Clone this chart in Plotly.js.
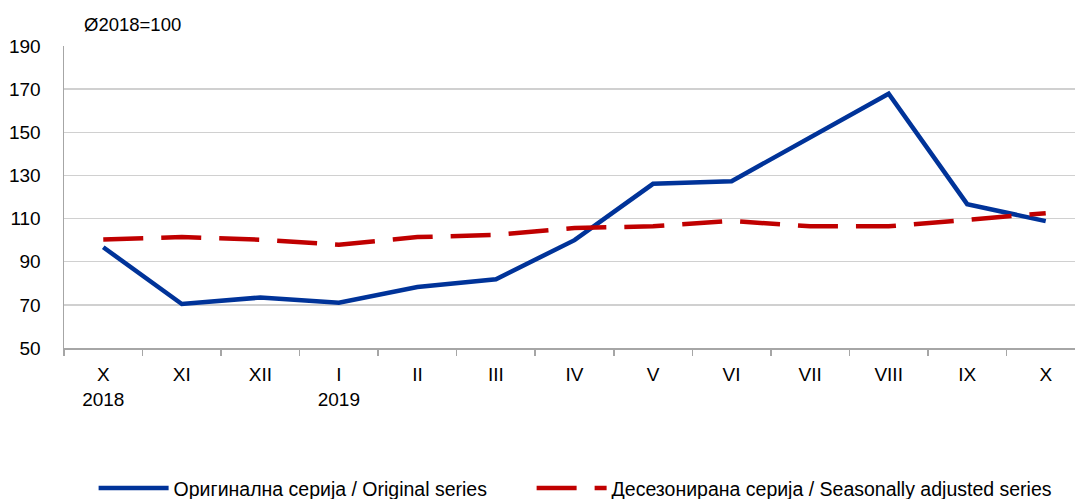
<!DOCTYPE html>
<html>
<head>
<meta charset="utf-8">
<script src="https://cdn.plot.ly/plotly-3.0.1.min.js"></script>
<style>
html,body{margin:0;padding:0;overflow:hidden;background:#fff;}
#chart{width:1085px;height:499px;}
</style>
</head>
<body>
<div id="chart"></div>
<script>
const categories = ["X<br>2018","XI","XII","I<br>2019","II","III","IV","V","VI","VII","VIII","IX","X"];
const originalSeries = [96.7, 70.4, 73.4, 71.0, 78.3, 81.9, 100.0, 126.1, 127.3, 147.6, 167.9, 116.7, 108.8];
const seasonallyAdjusted = [100.3, 101.4, 100.2, 97.9, 101.4, 102.4, 105.6, 106.4, 108.9, 106.4, 106.4, 109.2, 112.5];
const nameOriginal = "Оригинална серија / Original series";
const nameAdjusted = "Десезонирана серија / Seasonally adjusted series";
const unitNote = "Ø2018=100";

const font = "Liberation Sans, Arial, sans-serif";

const traces = [
  {x: categories, y: originalSeries, name: nameOriginal, type: "scatter", mode: "lines",
   line: {color: "#003399", width: 4.5}, legend: "legend"},
  {x: categories, y: seasonallyAdjusted, name: nameAdjusted, type: "scatter", mode: "lines",
   line: {color: "#c00000", width: 4.5, dash: "40px,18px"}, legend: "legend2"}
];

const legendBase = {orientation: "h", y: -0.465, xanchor: "left", yanchor: "middle",
  font: {family: font, size: 19.5, color: "#000"}, itemwidth: 70, bgcolor: "rgba(0,0,0,0)"};

const layout = {
  width: 1085, height: 499,
  margin: {l: 64, r: 0, t: 46, b: 151, autoexpand: false},
  paper_bgcolor: "#fff", plot_bgcolor: "#fff",
  font: {family: font, size: 19, color: "#000"},
  showlegend: true,
  legend: Object.assign({}, legendBase, {x: 0.029}),
  legend2: Object.assign({}, legendBase, {x: 0.458}),
  xaxis: {type: "category", range: [-0.5, 12.5], showgrid: false, showline: true, linecolor: "#a6a6a6", linewidth: 1.5,
          ticks: "outside", tickson: "boundaries", ticklen: 6, tickcolor: "#a6a6a6", tickwidth: 1.5,
          tickfont: {family: font, size: 19}, ticklabelstandoff: 9, zeroline: false, fixedrange: true},
  yaxis: {range: [50, 190], tickvals: [50,70,90,110,130,150,170,190], showgrid: true,
          gridcolor: "#d0d0d0", gridwidth: 1.5, showline: true, linecolor: "#a6a6a6", linewidth: 1.5,
          ticks: "", tickfont: {family: font, size: 19}, ticklabelstandoff: 18, zeroline: false, fixedrange: true},
  annotations: [{text: unitNote, xref: "paper", yref: "paper", x: 0.018, y: 1.07, xanchor: "left",
                 yanchor: "middle", showarrow: false, font: {family: font, size: 18.5, color: "#000"}}]
};

Plotly.newPlot("chart", traces, layout, {displayModeBar: false, staticPlot: true});
</script>
</body>
</html>
